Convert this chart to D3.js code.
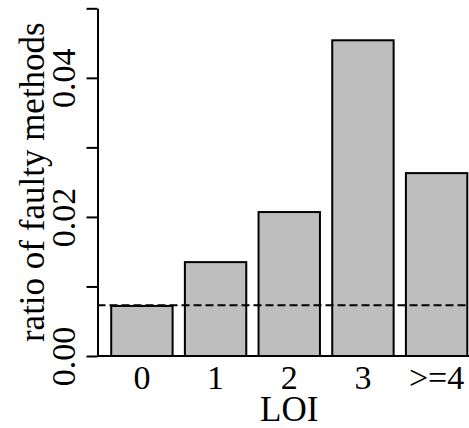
<!DOCTYPE html>
<html>
<head>
<meta charset="utf-8">
<script src="https://cdn.jsdelivr.net/npm/d3@7"></script>
<style>
  body { margin: 0; background: #fff; }
  text { font-family: "Liberation Serif", "DejaVu Serif", serif; fill: #000; }
</style>
</head>
<body>
<script>
const categories = ["0", "1", "2", "3", ">=4"];
const ratios = [0.0072, 0.0135, 0.0207, 0.0454, 0.0263];
const refLine = 0.0073;
const yTicks = [0, 0.01, 0.02, 0.03, 0.04, 0.05];
const yLabels = ["0.00", "", "0.02", "", "0.04", ""];

const WIDTH = 469, HEIGHT = 428;
const FONT = 34, TITLE_FONT = 35;

const svg = d3.select("body").append("svg")
  .attr("width", WIDTH).attr("height", HEIGHT);

// plot region (right side runs off the picture, like the original)
const x = d3.scaleBand()
  .domain(categories)
  .range([97.5, 481])
  .paddingInner(1 / 6)
  .paddingOuter(0.186);

const y = d3.scaleLinear().domain([0, 0.05]).range([356, 8.3]);

// baseline
svg.append("line")
  .attr("x1", x.range()[0]).attr("x2", WIDTH)
  .attr("y1", y(0)).attr("y2", y(0))
  .attr("stroke", "#000").attr("stroke-width", 2);

// bars
svg.selectAll("rect.bar")
  .data(ratios)
  .enter()
  .append("rect")
  .attr("class", "bar")
  .attr("x", (d, i) => x(categories[i]))
  .attr("y", d => y(d))
  .attr("width", x.bandwidth())
  .attr("height", d => y(0) - y(d))
  .attr("fill", "#bebebe")
  .attr("stroke", "#000")
  .attr("stroke-width", 2);

// dashed reference line
svg.append("line")
  .attr("x1", x.range()[0]).attr("x2", WIDTH)
  .attr("y1", y(refLine)).attr("y2", y(refLine))
  .attr("stroke", "#000").attr("stroke-width", 2)
  .attr("stroke-dasharray", "8,4");

// y axis
const yAxis = d3.axisLeft(y)
  .tickValues(yTicks)
  .tickSize(11)
  .tickSizeOuter(0)
  .tickFormat((d, i) => yLabels[i]);

const gy = svg.append("g")
  .attr("transform", `translate(${x.range()[0]},0)`)
  .call(yAxis);

gy.select(".domain").attr("stroke-width", 2);
gy.selectAll(".tick line").attr("stroke-width", 2);
gy.selectAll(".tick text")
  .attr("x", null).attr("dy", null)
  .attr("transform", "translate(-23,0) rotate(-90)")
  .attr("text-anchor", "middle")
  .style("font-size", FONT + "px");

// x labels
svg.selectAll("text.xlab")
  .data(categories)
  .enter()
  .append("text")
  .attr("class", "xlab")
  .attr("x", d => x(d) + x.bandwidth() / 2)
  .attr("y", 389)
  .attr("text-anchor", "middle")
  .style("font-size", FONT + "px")
  .text(d => d);

// axis titles
svg.append("text")
  .attr("x", (x.range()[0] + x.range()[1]) / 2)
  .attr("y", 421)
  .attr("text-anchor", "middle")
  .style("font-size", TITLE_FONT + "px")
  .text("LOI");

svg.append("text")
  .attr("transform", `translate(44,${(y(0) + y(0.05)) / 2}) rotate(-90)`)
  .attr("text-anchor", "middle")
  .style("font-size", TITLE_FONT + "px")
  .text("ratio of faulty methods");
</script>
</body>
</html>
